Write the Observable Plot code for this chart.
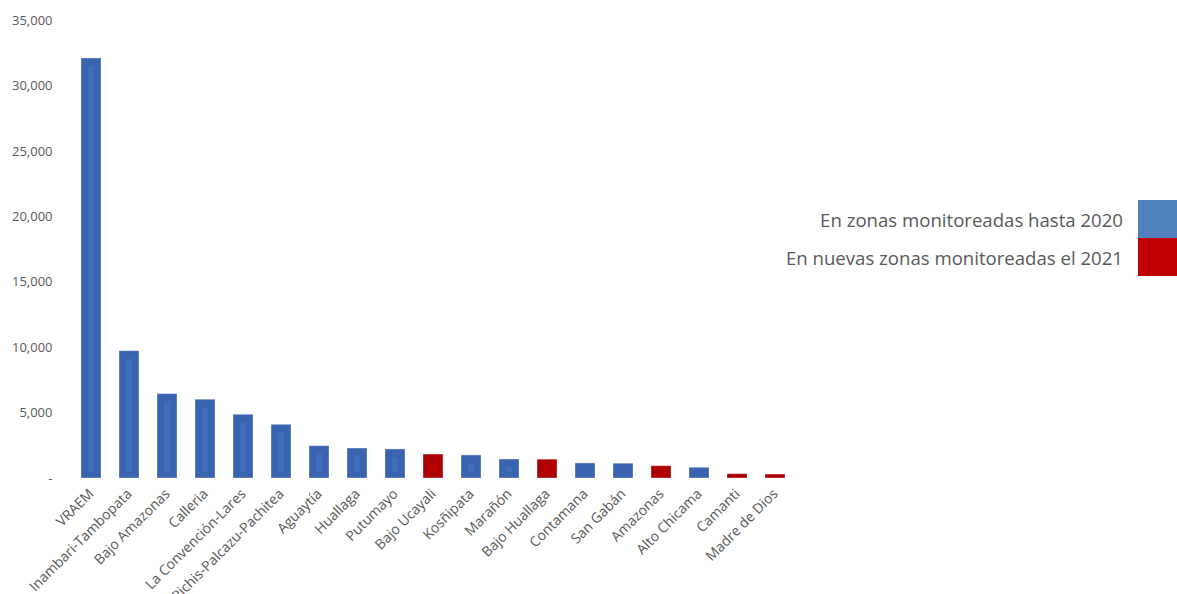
<!DOCTYPE html>
<html>
<head>
<meta charset="utf-8">
<script src="https://cdn.jsdelivr.net/npm/d3@7"></script>
<script src="https://cdn.jsdelivr.net/npm/@observablehq/plot@0.6"></script>
<style>
  html, body { margin: 0; padding: 0; background: #fff; }
  #wrap { position: relative; width: 1177px; height: 594px; font-family: "Open Sans", "Noto Sans", sans-serif; }
  #legend { position: absolute; right: 0; top: 200px; }
  .row { display: flex; align-items: center; justify-content: flex-end; height: 38px; }
  .row span { font-size: 18.6px; color: #595959; margin-right: 15px; }
  .sw { width: 39px; height: 38px; }
</style>
</head>
<body>
<div id="wrap">
  <div id="chart"></div>
  <div id="legend"></div>
</div>
<script>
const zones = ["VRAEM", "Inambari-Tambopata", "Bajo Amazonas", "Calleria", "La Convención-Lares",
  "Pichis-Palcazu-Pachitea", "Aguaytía", "Huallaga", "Putumayo", "Bajo Ucayali", "Kosñipata",
  "Marañón", "Bajo Huallaga", "Contamana", "San Gabán", "Amazonas", "Alto Chicama", "Camanti", "Madre de Dios"];
const hectares = [32100, 9730, 6450, 6020, 4870, 4100, 2470, 2290, 2220, 1830, 1760, 1450, 1440, 1150, 1130, 940, 820, 330, 300];
const group = ["2020", "2020", "2020", "2020", "2020", "2020", "2020", "2020", "2020", "2021", "2020",
  "2020", "2021", "2020", "2020", "2021", "2020", "2021", "2021"];
const groupKeys = ["2020", "2021"];
const groupLabels = ["En zonas monitoreadas hasta 2020", "En nuevas zonas monitoreadas el 2021"];
const barColors = ["#3B64B0", "#AD0000"];
const stripeColors = ["#4571C2", "#C00000"];
const legendColors = ["#4F81BD", "#C00000"];
const yTicks = [0, 5000, 10000, 15000, 20000, 25000, 30000, 35000];

const data = zones.map((z, i) => ({zone: z, value: hectares[i], group: group[i]}));

const fmt = d => d === 0 ? "-" : d3.format(",")(d);

const chart = Plot.plot({
  width: 1177,
  height: 594,
  marginLeft: 58,
  marginRight: 369,
  marginTop: 20,
  marginBottom: 116,
  style: {fontFamily: "'Open Sans', 'Noto Sans', sans-serif", fontSize: "13px", color: "#595959", background: "#fff"},
  x: {domain: zones, paddingInner: 0.48, paddingOuter: 0.52, label: null},
  y: {domain: [0, 35000], label: null},
  color: {domain: groupKeys, range: barColors},
  marks: [
    Plot.axisY({ticks: yTicks, tickFormat: fmt, tickSize: 0, tickPadding: 6, label: null, fill: "#595959", fontSize: 13}),
    Plot.axisX({tickRotate: -45, tickSize: 0, tickPadding: 13, label: null, fill: "#595959", fontSize: 14}),
    Plot.barY(data, {x: "zone", y: "value", fill: "group", stroke: "#ffffff", strokeOpacity: 0.35, strokeWidth: 1}),
    Plot.barY(data, {x: "zone", y: "value", fill: d => stripeColors[groupKeys.indexOf(d.group)], insetTop: 8, insetBottom: 6, insetLeft: 7, insetRight: 7, fillOpacity: 0.7})
  ]
});
document.getElementById("chart").appendChild(chart);

const legend = document.getElementById("legend");
groupKeys.forEach((k, i) => {
  const row = document.createElement("div");
  row.className = "row";
  const s = document.createElement("span");
  s.textContent = groupLabels[i];
  const sw = document.createElement("div");
  sw.className = "sw";
  sw.style.background = legendColors[i];
  row.appendChild(s);
  row.appendChild(sw);
  legend.appendChild(row);
});
</script>
</body>
</html>
